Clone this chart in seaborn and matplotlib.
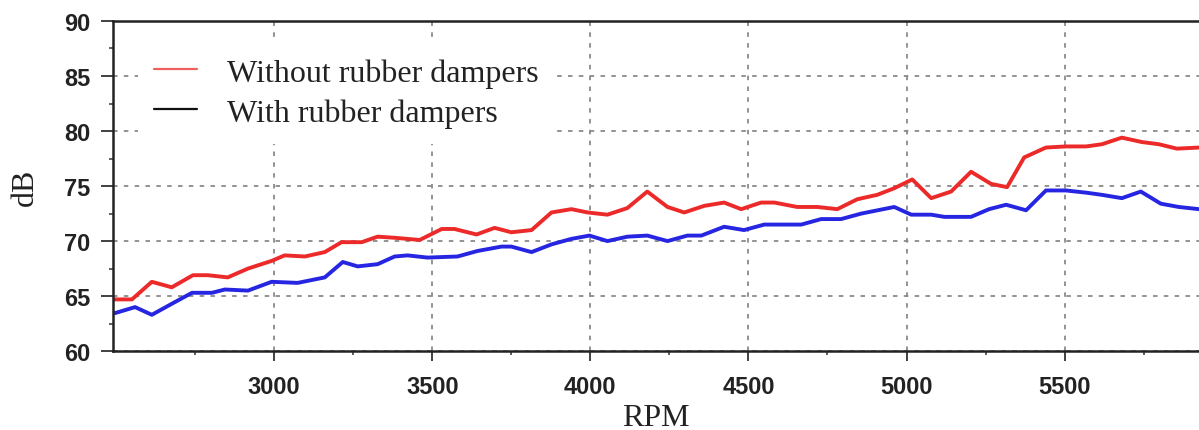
import pandas as pd
import matplotlib.pyplot as plt
import seaborn as sns

rpm_without = [2490, 2550, 2613, 2676, 2743, 2790, 2853, 2917, 2992, 3033, 3097,
               3160, 3213, 3277, 3327, 3381, 3460, 3530, 3570, 3640, 3697, 3750,
               3814, 3877, 3940, 3991, 4054, 4117, 4180, 4244, 4297, 4360, 4423,
               4477, 4540, 4582, 4654, 4718, 4781, 4844, 4907, 4961, 5018, 5078,
               5141, 5204, 5267, 5318, 5372, 5441, 5504, 5568, 5618, 5681, 5744,
               5798, 5855, 5925]
db_without = [64.7, 64.7, 66.3, 65.8, 66.9, 66.9, 66.7, 67.5, 68.2, 68.7, 68.6,
              69.0, 69.9, 69.9, 70.4, 70.3, 70.1, 71.1, 71.1, 70.6, 71.2, 70.8,
              71.0, 72.6, 72.9, 72.6, 72.4, 73.0, 74.5, 73.1, 72.6, 73.2, 73.5,
              72.9, 73.5, 73.5, 73.1, 73.1, 72.9, 73.8, 74.2, 74.8, 75.6, 73.9,
              74.5, 76.3, 75.2, 74.9, 77.6, 78.5, 78.6, 78.6, 78.8, 79.4, 79.0,
              78.8, 78.4, 78.5]

rpm_with = [2490, 2560, 2613, 2676, 2740, 2803, 2844, 2917, 2992, 3074, 3160,
            3217, 3264, 3327, 3381, 3422, 3485, 3580, 3643, 3719, 3750, 3814,
            3877, 3940, 3997, 4054, 4117, 4180, 4244, 4307, 4351, 4423, 4486,
            4550, 4667, 4730, 4793, 4857, 4961, 5015, 5078, 5119, 5204, 5261,
            5315, 5378, 5441, 5504, 5568, 5618, 5681, 5741, 5804, 5861, 5925]
db_with = [63.4, 64.0, 63.3, 64.3, 65.3, 65.3, 65.6, 65.5, 66.3, 66.2, 66.7,
           68.1, 67.7, 67.9, 68.6, 68.7, 68.5, 68.6, 69.1, 69.5, 69.5, 69.0,
           69.7, 70.2, 70.5, 70.0, 70.4, 70.5, 70.0, 70.5, 70.5, 71.3, 71.0,
           71.5, 71.5, 72.0, 72.0, 72.5, 73.1, 72.4, 72.4, 72.2, 72.2, 72.9,
           73.3, 72.8, 74.6, 74.6, 74.4, 74.2, 73.9, 74.5, 73.4, 73.1, 72.9]

labels = ["Without rubber dampers", "With rubber dampers"]
colors = {"Without rubber dampers": "#ec2a2a", "With rubber dampers": "#2626e2"}

df = pd.concat([
    pd.DataFrame({"RPM": rpm_without, "dB": db_without, "case": labels[0]}),
    pd.DataFrame({"RPM": rpm_with, "dB": db_with, "case": labels[1]}),
])

sns.set_style("white")
fig = plt.figure(figsize=(11.99, 4.31), dpi=100)
ax = fig.add_axes([0.0942, 0.183, 0.9058, 0.766])

sns.lineplot(data=df, x="RPM", y="dB", hue="case", palette=colors,
             linewidth=2.8, ax=ax, legend=False, sort=False)

ax.set_xlim(2490, 5925)
ax.set_ylim(60, 90)
ax.set_xticks([3000, 3500, 4000, 4500, 5000, 5500])
ax.set_xticks(range(2750, 5900, 500), minor=True)
ax.set_yticks(range(60, 91, 5))
ax.set_yticks([62.5 + 5 * i for i in range(6)], minor=True)
ax.grid(True, which="major", color="#8a8a8a", linestyle=(0, (2.5, 3.5)),
        linewidth=1.3)

for side in ["left", "bottom", "top"]:
    ax.spines[side].set_color("#222222")
    ax.spines[side].set_linewidth(1.8)
ax.spines["right"].set_visible(False)

ax.tick_params(bottom=True, left=True, which="both", direction="out",
               color="#333333")
ax.tick_params(axis="y", which="major", length=8.5, width=1.3, pad=8,
               labelsize=17)
ax.tick_params(axis="x", which="major", length=7, width=1.3, pad=10,
               labelsize=17)
ax.tick_params(axis="both", which="minor", length=3, width=1.1)
for t in ax.get_yticklabels() + ax.get_xticklabels():
    t.set_family("Liberation Sans")
    t.set_fontweight("bold")
    t.set_color("#222222")

ax.set_xlabel("RPM", family="Liberation Serif", fontsize=23, labelpad=4,
              color="#222222")
ax.set_ylabel("dB", family="Liberation Serif", fontsize=23, labelpad=17,
              color="#222222")

# legend drawn with a black handle for the second entry, as in the source
handles = [plt.Line2D([], [], color="#ee6060", linewidth=1.6),
           plt.Line2D([], [], color="#111111", linewidth=1.6)]
leg = ax.legend(handles, labels, loc="upper left", bbox_to_anchor=(0.023, 0.936),
                borderaxespad=0, borderpad=0.5, frameon=True, fancybox=False,
                handlelength=1.35, handletextpad=0.95, labelspacing=0.33,
                prop={"family": "Liberation Serif", "size": 23})
leg.get_frame().set_facecolor("white")
leg.get_frame().set_edgecolor("none")
leg.get_frame().set_alpha(1)
for t in leg.get_texts():
    t.set_color("#222222")

fig.savefig("out.png", dpi=100)
